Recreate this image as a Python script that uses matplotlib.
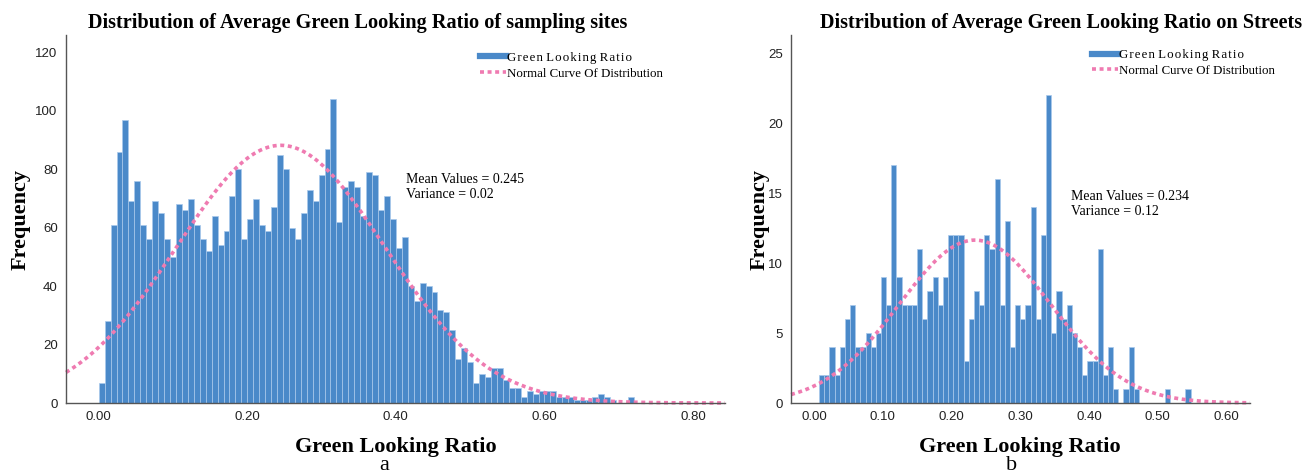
import numpy as np
import matplotlib
matplotlib.use("Agg")
import matplotlib.pyplot as plt
from matplotlib.lines import Line2D

# histogram a: sampling sites, bins of 0.008 starting at 0
sites_start = 0.0
sites_bw = 0.008
sites_counts = [7, 28, 61, 86, 97, 69, 76, 61, 56, 69, 65, 56, 50, 68, 66, 70, 61, 56, 52, 64,
                54, 59, 71, 80, 56, 63, 70, 61, 59, 67, 85, 80, 60, 56, 65, 73, 69, 78, 87, 104,
                62, 74, 76, 74, 64, 79, 78, 66, 71, 63, 53, 57, 40, 35, 41, 40, 38, 32, 31, 25,
                15, 19, 14, 7, 10, 9, 12, 12, 8, 5, 5, 2, 4, 3, 4, 4, 4, 2, 2, 2,
                1, 1, 1, 2, 3, 2, 1, 0, 0, 2]
sites_mean = 0.245
sites_sd = 0.14

# histogram b: streets, bins of 0.0075 starting at 0.0075
streets_start = 0.0075
streets_bw = 0.0075
streets_counts = [2, 2, 4, 2, 4, 6, 7, 4, 4, 5, 4, 5, 9, 7, 17, 9, 7, 7, 7, 11,
                  6, 8, 9, 7, 9, 12, 12, 12, 3, 6, 8, 7, 12, 11, 16, 7, 13, 4, 7, 6,
                  7, 14, 6, 12, 22, 5, 8, 6, 7, 5, 4, 2, 3, 3, 11, 2, 4, 1, 0, 1,
                  4, 1, 0, 0, 0, 0, 0, 1, 0, 0, 0, 1]
streets_mean = 0.234
streets_sd = 0.11

# the first legend entry is letter-spaced in the original
legend_labels = [" ".join("\u200a".join(w) for w in "Green Looking Ratio".split()),
                 "Normal Curve Of Distribution"]

BLUE = "#4a89c9"
PINK = "#ef7bb1"
W, H = 1312, 476


def px(x, y):
    return x / W, 1 - y / H


def draw_hist(ax, start, bw, counts, mean, sd, xlim, ylim, yticks, xticks):
    counts = np.array(counts)
    edges = start + bw * np.arange(len(counts))
    ax.bar(edges, counts, width=bw, align="edge", color=BLUE,
           edgecolor="#a9c9ec", linewidth=0.5)
    xs = np.linspace(xlim[0], xlim[1], 400)
    ys = counts.sum() * bw / (sd * np.sqrt(2 * np.pi)) * np.exp(-(xs - mean) ** 2 / (2 * sd ** 2))
    ax.plot(xs, ys, color=PINK, lw=2.6, dashes=(1.1, 1.0), clip_on=False)
    ax.set_xlim(xlim)
    ax.set_ylim(ylim)
    ax.set_yticks(yticks)
    ax.set_xticks(xticks)
    ax.set_xticklabels(["%.2f" % t for t in xticks])
    for s in ["top", "right"]:
        ax.spines[s].set_visible(False)
    for s in ["left", "bottom"]:
        ax.spines[s].set_color("#555555")
        ax.spines[s].set_linewidth(1.0)
    ax.tick_params(length=0, pad=6, labelsize=9.5, labelcolor="#222222")
    for lab in ax.get_xticklabels() + ax.get_yticklabels():
        lab.set_fontfamily("Liberation Sans")
    handles = [Line2D([], [], color=BLUE, lw=4.5),
               Line2D([], [], color=PINK, lw=2.6, dashes=(1.1, 1.0))]
    return handles


fig = plt.figure(figsize=(13.12, 4.76), dpi=100)
leg_font = {"family": ["Liberation Serif", "DejaVu Serif"], "size": 9.3}

ax1 = fig.add_axes([66 / W, 73 / H, 659 / W, 368 / H])
h = draw_hist(ax1, sites_start, sites_bw, sites_counts, sites_mean, sites_sd,
              (-0.044, 0.843), (0, 126), range(0, 121, 20), [0, 0.2, 0.4, 0.6, 0.8])
ax1.legend(h, legend_labels, loc="upper left",
           bbox_to_anchor=(0.628, 0.955), frameon=False, borderpad=0, borderaxespad=0,
           handlelength=2.0, handletextpad=0.1, labelspacing=0.3, prop=leg_font)

ax2 = fig.add_axes([791 / W, 73 / H, 459 / W, 368 / H])
h = draw_hist(ax2, streets_start, streets_bw, streets_counts, streets_mean, streets_sd,
              (-0.0334, 0.634), (0, 26.3), range(0, 26, 5), [0, 0.1, 0.2, 0.3, 0.4, 0.5, 0.6])
ax2.legend(h, legend_labels, loc="upper left",
           bbox_to_anchor=(0.656, 0.962), frameon=False, borderpad=0, borderaxespad=0,
           handlelength=2.0, handletextpad=0.1, labelspacing=0.3, prop=leg_font)

serif_b = dict(family="Liberation Serif", weight="bold", color="black")

fig.text(*px(358, 23), "Distribution of Average Green Looking Ratio of sampling sites",
         ha="center", va="center", size=14.6, **serif_b)
fig.text(*px(1061, 23), "Distribution of Average Green Looking Ratio on Streets",
         ha="center", va="center", size=14.6, **serif_b)

fig.text(*px(21, 220), "Frequency", rotation=90, ha="center", va="center", size=16, **serif_b)
fig.text(*px(760, 220), "Frequency", rotation=90, ha="center", va="center", size=16, **serif_b)

fig.text(*px(396, 447), "Green Looking Ratio", ha="center", va="center", size=16, **serif_b)
fig.text(*px(1020, 447), "Green Looking Ratio", ha="center", va="center", size=16, **serif_b)
fig.text(*px(384, 466), "a", ha="center", va="center", size=16, family="Liberation Serif")
fig.text(*px(1012, 466), "b", ha="center", va="center", size=16, family="Liberation Serif")

fig.text(*px(406, 187), "Mean Values = 0.245\nVariance = 0.02", ha="left", va="center",
         size=10, linespacing=1.2, family="Liberation Serif")
fig.text(*px(1071, 204), "Mean Values = 0.234\nVariance = 0.12", ha="left", va="center",
         size=10, linespacing=1.2, family="Liberation Serif")

fig.savefig("out.png", dpi=100)
